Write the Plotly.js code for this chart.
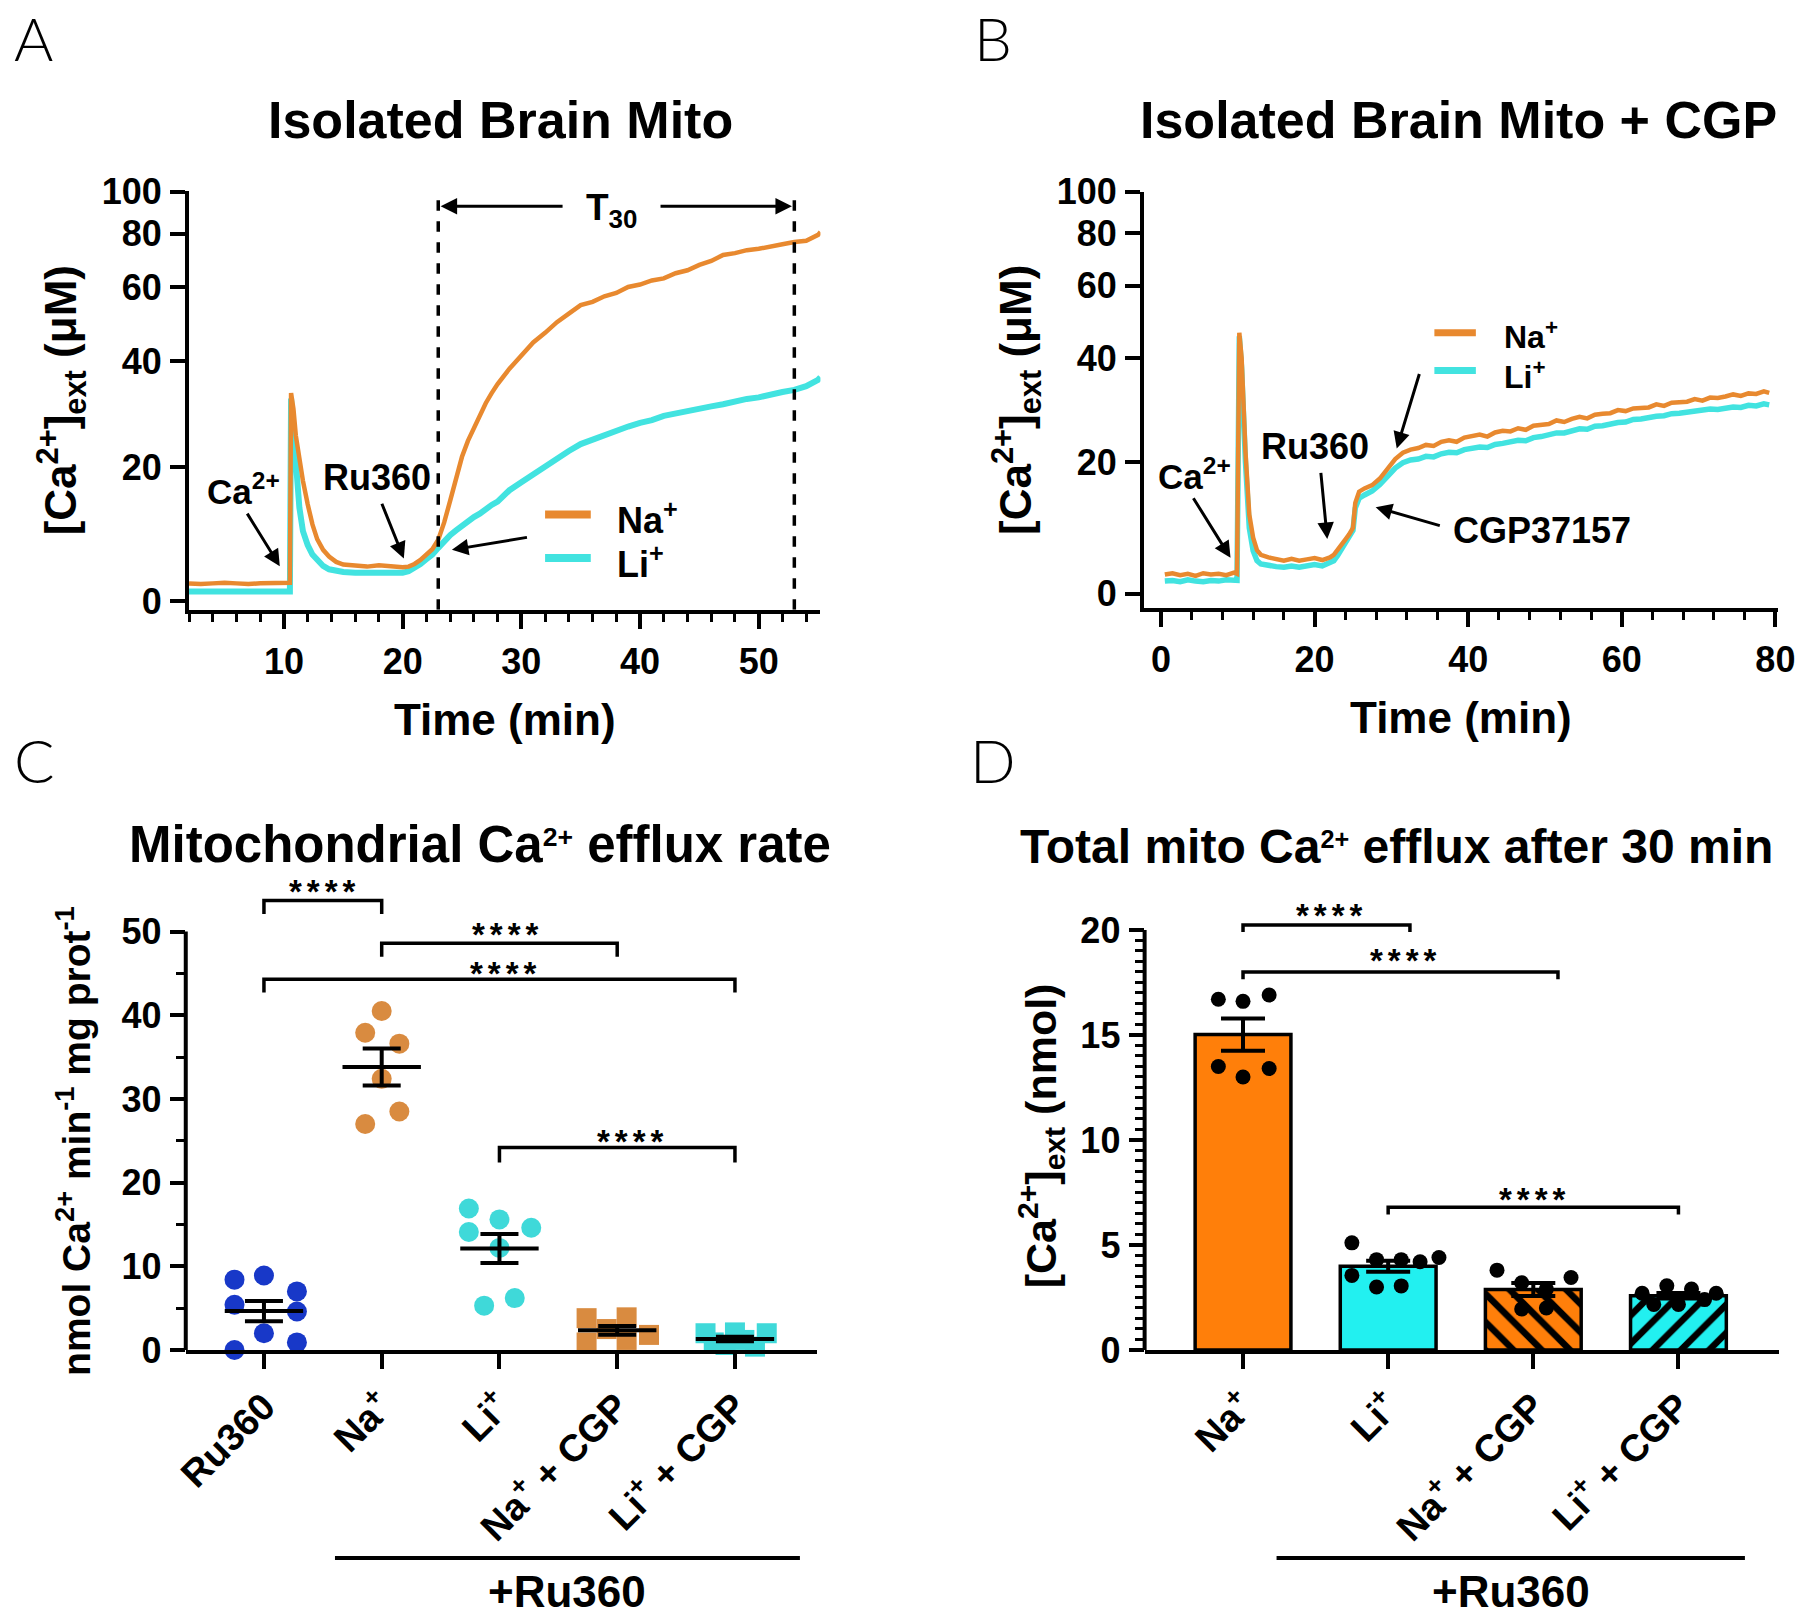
<!DOCTYPE html>
<html>
<head>
<meta charset="utf-8">
<script src="https://cdn.plot.ly/plotly-3.0.1.min.js"></script>
<style>html,body{margin:0;padding:0;background:#fff;}</style>
</head>
<body>
<div id="chart" style="width:1800px;height:1615px;"></div>
<script>
// ---------------- DATA ----------------
// calibration of the non-linear [Ca2+] axis (µM -> relative indicator signal)
const calConc   = [0, 20, 40, 60, 80, 100];
const calSignal = [0, 32.7, 58.6, 76.6, 89.7, 100];

// Panel A: Isolated Brain Mito (time in min, [Ca2+]ext in µM)
const timeA = [2,3,4,5,6,7,8,9,10,10.5,10.6,10.8,11,11.3,11.6,12,12.4,12.8,13.3,13.8,14.4,
  15,16,17,18,19,20,20.5,21,21.5,22,22.5,23,23.5,24,24.5,25,25.5,26,26.5,27,27.5,28,
  29,30,31,32,33,34,35,36,37,38,39,40,41,42,43,44,45,46,47,48,49,50,51,52,53,54,55,55.2];
const naA = [2.7,2.6,2.7,2.8,2.7,2.6,2.7,2.7,2.8,2.8,34,31,26,21.5,18,14.5,11.5,9.3,7.7,6.7,5.9,
  5.5,5.3,5.2,5.4,5.2,5.1,5.2,5.6,6.2,6.9,7.8,9.2,11.8,15,18.5,22,25,27.5,30,32.1,34,35.7,
  38.6,41.6,45.1,47.7,50.6,52.9,55.2,56.1,57.6,58.5,60.2,61.1,62.6,63.4,65.3,66.4,68.4,69.9,72.1,72.8,73.9,74.4,75.4,76.1,76.9,77.4,79.6,80.8];
const liA = [1.5,1.4,1.5,1.5,1.4,1.5,1.5,1.4,1.5,1.5,33,27,20,14,10.5,8.4,7.0,6.1,5.3,4.8,4.5,
  4.4,4.3,4.3,4.2,4.3,4.3,4.5,5.0,5.6,6.3,7.0,8.0,9.0,9.9,10.6,11.3,11.9,12.6,13.1,13.8,14.4,14.9,
  16.6,17.8,19.0,20.4,21.8,23.1,24.4,25.3,26.1,26.8,27.7,28.4,28.9,29.7,30.2,30.6,31.2,31.5,31.9,32.5,32.9,33.2,33.8,34.2,34.6,35.3,36.5,37.0];

// Panel B: Isolated Brain Mito + CGP
const timeB = [0.5,1.5,2.5,3.5,4.5,5.5,6.5,7.5,8.5,9.5,9.9,10.2,10.5,11,11.5,12,12.5,13,
  14,15,16,17,18,19,20,21,22,22.5,23,23.5,24,24.5,25,25.3,25.8,
  26.5,27.5,28.5,29.5,30.5,31.5,32.5,33.5,34.5,35.5,36.5,37.5,38.5,39.5,40.5,41.5,42.5,43.5,44.5,45.5,
  46.5,47.5,48.5,49.5,50.5,51.5,52.5,53.5,54.5,55.5,56.5,57.5,58.5,59.5,60.5,61.5,62.5,63.5,64.5,65.5,
  66.5,67.5,68.5,69.5,70.5,71.5,72.5,73.5,74.5,75.5,76.5,77.5,78.5,79.2];
const naB = [2.9,3.1,2.8,3.0,2.7,3.1,2.9,3.0,2.8,3.2,3.0,47,40,22,12,8.5,6.6,5.9,
  5.5,5.2,5.0,5.3,5.0,5.2,5.4,5.1,5.5,5.9,6.6,7.5,8.2,9.0,10.0,13.8,15.5,
  16.0,16.5,17.5,19.0,20.6,21.8,22.4,22.7,23.3,23.1,23.9,24.2,23.9,24.7,24.9,25.3,24.9,25.7,26.0,25.9,
  26.5,26.2,27.0,27.2,27.3,28.0,27.7,28.3,28.7,28.4,29.1,29.3,29.4,30.0,29.8,30.3,30.5,30.5,31.1,30.8,
  31.4,31.6,31.6,32.1,31.8,32.4,32.3,32.6,33.0,32.7,33.2,33.1,33.6,33.3];
const liB = [1.9,2.0,1.8,2.1,1.9,1.8,2.0,1.9,2.1,1.9,2.0,46,38,20,10,6.5,5.0,4.5,
  4.2,4.1,4.0,4.2,4.0,4.3,4.4,4.2,4.6,5.0,5.8,6.8,7.6,8.6,9.6,13.0,14.5,
  15.0,15.6,16.6,18.0,19.1,19.9,20.4,20.6,21.1,21.0,21.6,21.9,21.8,22.4,22.6,22.9,22.8,23.4,23.6,23.8,
  24.2,24.1,24.7,24.9,25.3,25.6,25.6,26.1,26.4,26.3,26.9,27.0,27.4,27.6,27.7,28.2,28.3,28.6,28.8,28.9,
  29.3,29.4,29.6,29.8,29.9,30.2,30.1,30.4,30.6,30.5,30.9,30.8,31.2,31.0];

// Panel C: mitochondrial Ca2+ efflux rate (nmol Ca2+ /min /mg prot)
const catC = ['Ru360', 'Na<sup>+</sup>', 'Li<sup>+</sup>', 'Na<sup>+</sup> + CGP', 'Li<sup>+</sup> + CGP'];
const rateRu360 = [8.4, 8.9, 7.0, 5.4, 4.6, 2.0, 0.0, 0.9];
const rateNa    = [40.5, 37.9, 36.6, 32.4, 27.0, 28.5];
const rateLi    = [16.9, 15.6, 14.6, 14.1, 12.2, 5.3, 6.2];
const rateNaCGP = [3.8, 3.9, 0.9, 1.8, 2.5, 1.2];
const rateLiCGP = [2.0, 2.1, 2.0, 0.4, 0.9, 1.2, 0.6];

// Panel D: total mito Ca2+ efflux after 30 min (nmol)
const catD = ['Na<sup>+</sup>', 'Li<sup>+</sup>', 'Na<sup>+</sup> + CGP', 'Li<sup>+</sup> + CGP'];
const effluxNa    = [16.7, 16.6, 16.9, 13.5, 13.0, 13.4];
const effluxLi    = [5.1, 4.3, 4.3, 4.2, 4.4, 3.55, 3.0, 3.05];
const effluxNaCGP = [3.8, 3.2, 2.9, 3.45, 1.95, 2.0];
const effluxLiCGP = [2.7, 3.06, 2.9, 2.7, 2.17, 2.17, 2.4];

// ---------------- HELPERS ----------------
function toSignal(c) {
  for (let i = 1; i < calConc.length; i++) {
    if (c <= calConc[i] || i === calConc.length - 1) {
      const r = (c - calConc[i - 1]) / (calConc[i] - calConc[i - 1]);
      return calSignal[i - 1] + r * (calSignal[i] - calSignal[i - 1]);
    }
  }
}
function mean(a) { return a.reduce((s, v) => s + v, 0) / a.length; }
function sem(a) {
  const m = mean(a);
  const v = a.reduce((s, x) => s + (x - m) * (x - m), 0) / (a.length - 1);
  return Math.sqrt(v) / Math.sqrt(a.length);
}

// ---------------- STYLE ----------------
const FONT = 'Liberation Sans, Arial, Helvetica, sans-serif';
const TRACE_ORANGE = '#E8892F';
const TRACE_CYAN = '#42E3E0';
const BLUE = '#1838C8';
const DOT_ORANGE = '#D98B40';
const DOT_CYAN = '#3FD9D9';
const BAR_ORANGE = '#FF7F0A';
const BAR_CYAN = '#22F0F0';

// horizontal swarm offsets (layout of the Prism-style scatter)
const swarmC = [
  [-0.25, 0, 0.28, -0.25, 0.28, 0, -0.25, 0.28],
  [0, -0.14, 0.15, 0, -0.14, 0.15],
  [-0.26, 0, 0.27, -0.26, 0, -0.13, 0.13],
  [-0.26, 0.08, -0.26, 0.27, -0.09, 0.08],
  [-0.25, 0, 0.27, 0.17, -0.18, 0.08, -0.08]
];
const swarmD = [
  [-0.17, 0, 0.18, -0.17, 0, 0.18],
  [-0.25, -0.08, 0.09, 0.22, 0.35, -0.25, -0.08, 0.09],
  [-0.25, -0.08, 0.09, 0.26, -0.08, 0.09],
  [-0.25, -0.08, 0.09, 0.26, -0.17, 0, 0.18]
];

const traces = [];
// Panel A
traces.push({x: timeA, y: liA.map(toSignal), xaxis: 'x', yaxis: 'y', mode: 'lines',
  line: {color: TRACE_CYAN, width: 6}, name: 'Li+', showlegend: false, hoverinfo: 'skip'});
traces.push({x: timeA, y: naA.map(toSignal), xaxis: 'x', yaxis: 'y', mode: 'lines',
  line: {color: TRACE_ORANGE, width: 4.5}, name: 'Na+', showlegend: false, hoverinfo: 'skip'});
// Panel B
traces.push({x: timeB, y: liB.map(toSignal), xaxis: 'x2', yaxis: 'y2', mode: 'lines',
  line: {color: TRACE_CYAN, width: 5.5}, name: 'Li+', showlegend: false, hoverinfo: 'skip'});
traces.push({x: timeB, y: naB.map(toSignal), xaxis: 'x2', yaxis: 'y2', mode: 'lines',
  line: {color: TRACE_ORANGE, width: 4.5}, name: 'Na+', showlegend: false, hoverinfo: 'skip'});

// Panel C
const groupsC = [rateRu360, rateNa, rateLi, rateNaCGP, rateLiCGP];
const colorsC = [BLUE, DOT_ORANGE, DOT_CYAN, DOT_ORANGE, DOT_CYAN];
const symbolsC = ['circle', 'circle', 'circle', 'square', 'square'];
groupsC.forEach((vals, g) => {
  traces.push({x: vals.map((v, i) => g + swarmC[g][i]), y: vals, xaxis: 'x3', yaxis: 'y3',
    mode: 'markers', cliponaxis: false, showlegend: false, hoverinfo: 'skip',
    marker: {color: colorsC[g], size: 20, symbol: symbolsC[g], line: {width: 0}}});
});
groupsC.forEach((vals, g) => {
  traces.push({x: [g], y: [mean(vals)], xaxis: 'x3', yaxis: 'y3', mode: 'markers',
    cliponaxis: false, showlegend: false, hoverinfo: 'skip',
    marker: {symbol: 'line-ew-open', size: 56, color: '#000', line: {width: 4, color: '#000'}},
    error_y: {type: 'data', array: [sem(vals)], color: '#000', thickness: 4, width: 19}});
});

// Panel D (one bar trace per group so each keeps its own fill/pattern)
const groupsD = [effluxNa, effluxLi, effluxNaCGP, effluxLiCGP];
const barColorsD = [BAR_ORANGE, BAR_CYAN, BAR_ORANGE, BAR_CYAN];
const barPatternD = ['', '', '\\', '/'];
groupsD.forEach((vals, g) => {
  const bar = {type: 'bar', x: [g], y: [mean(vals)], xaxis: 'x4', yaxis: 'y4',
    width: 0.66, showlegend: false, hoverinfo: 'skip',
    marker: {color: barColorsD[g], line: {color: '#000', width: 3.5}},
    error_y: {type: 'data', array: [sem(vals)], color: '#000', thickness: 4, width: 22}};
  if (barPatternD[g]) {
    bar.marker.pattern = {shape: barPatternD[g], fillmode: 'replace', bgcolor: barColorsD[g],
      fgcolor: '#000', fgopacity: 1, size: 20, solidity: 0.33};
  }
  traces.push(bar);
});
groupsD.forEach((vals, g) => {
  traces.push({x: vals.map((v, i) => g + swarmD[g][i]), y: vals, xaxis: 'x4', yaxis: 'y4',
    mode: 'markers', cliponaxis: false, showlegend: false, hoverinfo: 'skip',
    marker: {color: '#000', size: 15, symbol: 'circle'}});
});

// ---------------- AXES ----------------
function axis(extra) {
  return Object.assign({
    showline: true, linewidth: 4, linecolor: '#000', mirror: false,
    ticks: 'outside', ticklen: 15, tickwidth: 4, tickcolor: '#000',
    showgrid: false, zeroline: false, fixedrange: true,
    tickfont: {family: FONT, size: 36, color: '#000', weight: 'bold'}
  }, extra);
}
const axTitleFont = {family: FONT, size: 44, color: '#000', weight: 'bold'};
const catFont = {family: FONT, size: 38, color: '#000', weight: 'bold'};

const layout = {
  width: 1800, height: 1615,
  margin: {l: 0, r: 0, t: 0, b: 0},
  paper_bgcolor: '#fff', plot_bgcolor: 'rgba(0,0,0,0)',
  font: {family: FONT, color: '#000'},
  showlegend: false, barmode: 'overlay',
  xaxis: axis({domain: [0.105, 0.4558], anchor: 'y', range: [2, 55.2], tickmode: 'linear', tick0: 0, dtick: 10,
    minor: {dtick: 2, ticks: 'outside', ticklen: 8, tickwidth: 3, tickcolor: '#000'},
    ticklabelstandoff: 2,
    title: {text: 'Time (min)', font: axTitleFont, standoff: 24}}),
  yaxis: axis({domain: [0.6225, 0.8819], anchor: 'x', range: [-2, 100.2], tickmode: 'array',
    tickvals: calSignal, ticktext: calConc.map(String), ticklabelstandoff: 1,
    title: {text: '[Ca<sup>2+</sup>]<sub>ext</sub> (μM)', font: axTitleFont, standoff: 12}}),
  xaxis2: axis({domain: [0.6356, 0.9876], anchor: 'y2', range: [-2.2, 80.3], tickmode: 'linear', tick0: 0, dtick: 20,
    minor: {dtick: 4, ticks: 'outside', ticklen: 8, tickwidth: 3, tickcolor: '#000'},
    ticklabelstandoff: 2,
    title: {text: 'Time (min)', font: axTitleFont, standoff: 24}}),
  yaxis2: axis({domain: [0.6235, 0.8814], anchor: 'x2', range: [-3.6, 100], tickmode: 'array',
    tickvals: calSignal, ticktext: calConc.map(String), ticklabelstandoff: 1,
    title: {text: '[Ca<sup>2+</sup>]<sub>ext</sub> (μM)', font: axTitleFont, standoff: 12}}),
  xaxis3: axis({domain: [0.1032, 0.4541], anchor: 'y3', range: [-0.664, 4.70], tickmode: 'array',
    tickvals: [0, 1, 2, 3, 4], ticktext: catC, tickangle: -45, tickfont: catFont}),
  yaxis3: axis({domain: [0.1641, 0.4543], anchor: 'x3', range: [0, 56], showline: false, tickmode: 'array',
    tickvals: [0, 10, 20, 30, 40, 50], ticklabelstandoff: 1,
    minor: {tickmode: 'array', tickvals: [5, 15, 25, 35, 45], ticks: 'outside', ticklen: 9, tickwidth: 3, tickcolor: '#000'}}),
  xaxis4: axis({domain: [0.6359, 0.9881], anchor: 'y4', range: [-0.678, 3.69], tickmode: 'array',
    tickvals: [0, 1, 2, 3], ticktext: catD, tickangle: -45, tickfont: catFont}),
  yaxis4: axis({domain: [0.1641, 0.4450], anchor: 'x4', range: [0, 21.6], showline: false, tickmode: 'array',
    tickvals: [0, 5, 10, 15, 20], ticklabelstandoff: 1,
    minor: {tickmode: 'array', tickvals: [], ticks: 'outside', ticklen: 9, tickwidth: 3, tickcolor: '#000'}}),
  shapes: [],
  annotations: []
};
// minor ticks for D every 0.5 up to 20
for (let v = 0.5; v < 20; v += 0.5) { if (v % 5 !== 0) layout.yaxis4.minor.tickvals.push(v); }

const S = layout.shapes, A = layout.annotations;
const bold = (size) => ({family: FONT, size: size, color: '#000', weight: 'bold'});
const smallSup = (txt, px) => `<span style="font-size:${px}px"><sup>${txt}</sup></span>`;
// y axis lines for C and D (stop at the top tick)
S.push({type: 'line', xref: 'x3 domain', yref: 'y3', x0: 0, x1: 0, y0: 0, y1: 50, line: {color: '#000', width: 4}});
S.push({type: 'line', xref: 'x4 domain', yref: 'y4', x0: 0, x1: 0, y0: 0, y1: 20, line: {color: '#000', width: 4}});
// T30 dashed lines in A
[23, 53].forEach(t => S.push({type: 'line', xref: 'x', yref: 'y', x0: t, x1: t, y0: -2, y1: 100,
  line: {color: '#000', width: 3.5, dash: 'dash'}}));

// legends of A and B (line keys + labels)
function legendKey(xr, yr, x0, x1, y, color, w) {
  S.push({type: 'line', xref: xr, yref: yr, x0: x0, x1: x1, y0: y, y1: y, line: {color: color, width: w}});
}
function label(xr, yr, x, y, text, size, xanchor) {
  A.push({xref: xr, yref: yr, x: x, y: y, text: text, showarrow: false, font: bold(size || 34),
    xanchor: xanchor || 'center', yanchor: 'middle'});
}
legendKey('x', 'y', 32.0, 35.85, 21.2, TRACE_ORANGE, 8);
legendKey('x', 'y', 32.0, 35.85, 10.6, TRACE_CYAN, 8);
label('x', 'y', 37.9, 20.4, 'Na<sup>+</sup>', 36, 'left');
label('x', 'y', 37.9, 9.6, 'Li<sup>+</sup>', 36, 'left');
legendKey('x2', 'y2', 35.6, 41.0, 64.9, TRACE_ORANGE, 7);
legendKey('x2', 'y2', 35.6, 41.0, 55.5, TRACE_CYAN, 7);
label('x2', 'y2', 44.4, 64.3, 'Na<sup>+</sup>', 32, 'left');
label('x2', 'y2', 44.4, 54.4, 'Li<sup>+</sup>', 32, 'left');

function bracket(xr, yr, x0, x1, y, ydL, ydR) {
  S.push({type: 'path', xref: xr, yref: yr,
    path: `M${x0},${ydL} L${x0},${y} L${x1},${y} L${x1},${ydR}`, line: {color: '#000', width: 3.5}});
}
function stars(xr, yr, x, y) {
  A.push({xref: xr, yref: yr, x: x, y: y, text: '<span style="letter-spacing:5px">****</span>', showarrow: false,
    xanchor: 'center', yanchor: 'middle', yshift: -7, font: bold(33)});
}
// C brackets
bracket('x3', 'y3', 0, 1, 53.7, 52.1, 52.1); stars('x3', 'y3', 0.51, 55.6);
bracket('x3', 'y3', 1, 3, 48.6, 47.0, 47.0); stars('x3', 'y3', 2.07, 50.5);
bracket('x3', 'y3', 0, 4, 44.3, 42.7, 42.7); stars('x3', 'y3', 2.05, 45.8);
bracket('x3', 'y3', 2, 4, 24.2, 22.4, 22.4); stars('x3', 'y3', 3.13, 25.7);
// D brackets
bracket('x4', 'y4', 0, 1.15, 20.24, 19.9, 19.9); stars('x4', 'y4', 0.61, 21.0);
bracket('x4', 'y4', 0, 2.17, 18.0, 17.65, 17.65); stars('x4', 'y4', 1.12, 18.86);
bracket('x4', 'y4', 1, 3, 6.8, 6.45, 6.45); stars('x4', 'y4', 2.01, 7.5);

// +Ru360 group lines
S.push({type: 'line', xref: 'paper', yref: 'paper', x0: 0.1861, x1: 0.4444, y0: 0.0353, y1: 0.0353, line: {color: '#000', width: 4}});
S.push({type: 'line', xref: 'paper', yref: 'paper', x0: 0.7092, x1: 0.9694, y0: 0.0353, y1: 0.0353, line: {color: '#000', width: 4}});
A.push({xref: 'paper', yref: 'paper', x: 0.315, y: 1 - 1591 / 1615, text: '+Ru360', showarrow: false, font: bold(44),
  xanchor: 'center', yanchor: 'middle'});
A.push({xref: 'paper', yref: 'paper', x: 0.8393, y: 1 - 1591 / 1615, text: '+Ru360', showarrow: false, font: bold(44),
  xanchor: 'center', yanchor: 'middle'});

// panel titles
function title(x, ypx, text, size) {
  A.push({xref: 'paper', yref: 'paper', x: x, y: 1 - ypx / 1615, text: text, showarrow: false, font: bold(size),
    xanchor: 'center', yanchor: 'middle'});
}
title(0.2783, 120, 'Isolated Brain Mito', 52);
title(0.81, 120, 'Isolated Brain Mito + CGP', 52);
title(0.2667, 844, 'Mitochondrial Ca' + smallSup('2+', 38) + ' efflux rate', 51);
title(0.7756, 846, 'Total mito Ca' + smallSup('2+', 36) + ' efflux after 30 min', 48);
// y titles for C and D
A.push({xref: 'paper', yref: 'paper', x: 0.0405, y: 1 - 1141 / 1615, text: 'nmol Ca<sup>2+</sup> min<sup>-1</sup> mg prot<sup>-1</sup>',
  textangle: -90, showarrow: false, font: bold(39), xanchor: 'center', yanchor: 'middle'});
A.push({xref: 'paper', yref: 'paper', x: 0.5785, y: 1 - 1136 / 1615, text: '[Ca<sup>2+</sup>]<sub>ext</sub> (nmol)',
  textangle: -90, showarrow: false, font: bold(43), xanchor: 'center', yanchor: 'middle'});
// panel letters
const letterFont = {family: 'Lato, DejaVu Sans, sans-serif', size: 60, color: '#000', weight: 300};
[['A', 33, 38], ['B', 993, 38], ['C', 34, 760], ['D', 993, 760]].forEach(l =>
  A.push({xref: 'paper', yref: 'paper', x: l[1] / 1800, y: 1 - l[2] / 1615, text: l[0], showarrow: false,
    font: letterFont, xanchor: 'center', yanchor: 'middle'}));

// trace annotations
function arrow(xr, yr, x, y, ax, ay) {
  A.push({xref: xr, yref: yr, axref: xr, ayref: yr, x: x, y: y, ax: ax, ay: ay, text: '', showarrow: true,
    arrowhead: 2, arrowsize: 1.1, arrowwidth: 3, arrowcolor: '#000'});
}
label('x', 'y', 6.58, 27.4, 'Ca<sup>2+</sup>', 35);
arrow('x', 'y', 9.65, 8.6, 6.83, 21.8);
label('x', 'y', 17.86, 30.3, 'Ru360', 36);
arrow('x', 'y', 20.1, 10.5, 18.2, 24.2);
arrow('x', 'y', 24.15, 12.6, 30.6, 15.7);
arrow('x', 'y', 23.2, 96.4, 33.6, 96.4);
arrow('x', 'y', 52.8, 96.4, 41.6, 96.4);
label('x', 'y', 37.6, 95.4, 'T<sub>30</sub>', 37);
label('x2', 'y2', 4.39, 29.8, 'Ca<sup>2+</sup>', 35);
arrow('x2', 'y2', 9.05, 8.9, 4.1, 24.1);
label('x2', 'y2', 20.0, 36.7, 'Ru360', 36);
arrow('x2', 'y2', 21.65, 13.6, 20.8, 30.4);
arrow('x2', 'y2', 30.7, 36.1, 33.7, 55);
label('x2', 'y2', 37.8, 15.7, 'CGP37157', 36, 'left');
arrow('x2', 'y2', 27.95, 21.5, 36.5, 16.8);

Plotly.newPlot('chart', traces, layout, {staticPlot: true, displayModeBar: false});
</script>
</body>
</html>
